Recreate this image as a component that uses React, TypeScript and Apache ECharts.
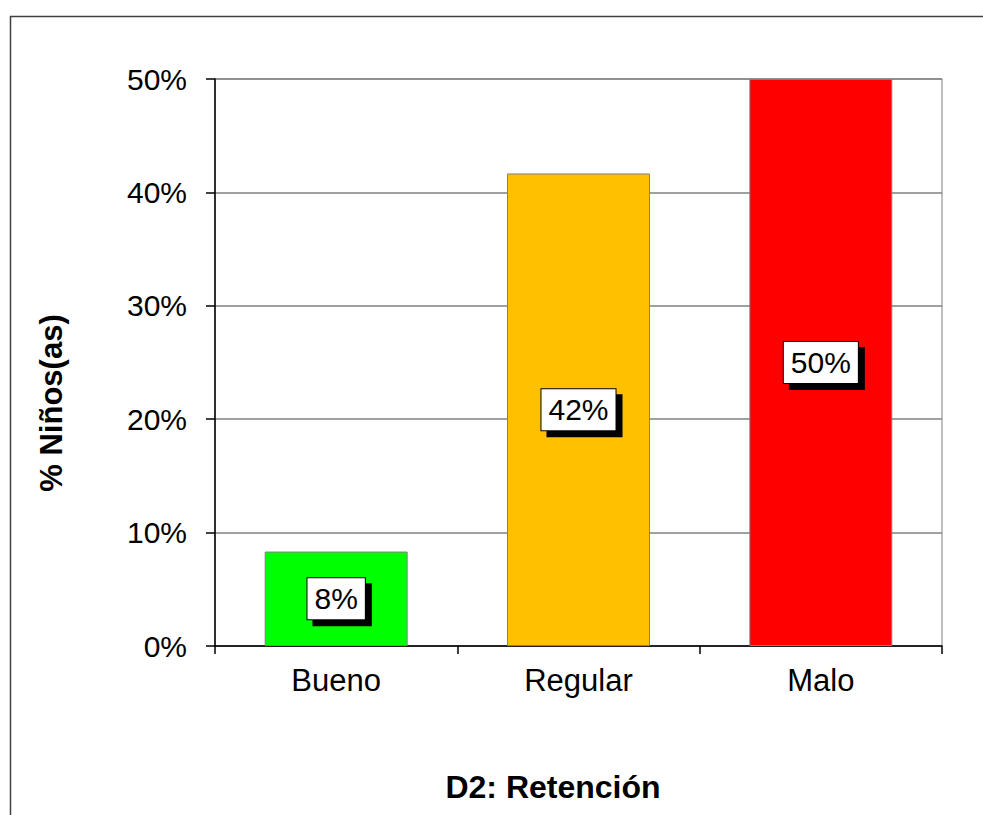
import React, { useEffect, useRef } from "react";
import * as echarts from "echarts";

const categories = ["Bueno", "Regular", "Malo"];
const values = [8.33, 41.67, 50];
const barColors = ["#00FF00", "#FFC000", "#FF0000"];
const yTicks = { min: 0, max: 50, interval: 10 };
const xTitle = "D2: Retención";
const yTitle = "% Niños(as)";

const FONT = "'Liberation Sans', Arial, sans-serif";

export default function App() {
  const ref = useRef<HTMLDivElement>(null);
  useEffect(() => {
    if (!ref.current) return;
    const chart = echarts.init(ref.current, undefined, { renderer: "svg" });
    chart.setOption({
      animation: false,
      backgroundColor: "#ffffff",
      textStyle: { fontFamily: FONT },
      grid: {
        left: 215,
        top: 79,
        right: 41,
        bottom: 169,
        show: true,
        borderColor: "#808080",
        borderWidth: 1,
        backgroundColor: "transparent",
      },
      xAxis: {
        type: "category",
        data: categories,
        axisLine: { show: true, lineStyle: { color: "#000", width: 1.5 } },
        axisTick: { show: true, length: 8, inside: false, lineStyle: { color: "#000", width: 1.5 } },
        axisLabel: { color: "#000", fontSize: 31, fontFamily: FONT, margin: 19 },
        splitLine: { show: false },
      },
      yAxis: {
        type: "value",
        min: yTicks.min,
        max: yTicks.max,
        interval: yTicks.interval,
        axisLine: { show: true, lineStyle: { color: "#000", width: 1.5 } },
        axisTick: { show: true, length: 9, lineStyle: { color: "#000", width: 1.5 } },
        axisLabel: { color: "#000", fontSize: 30, fontFamily: FONT, margin: 28, formatter: "{value}%" },
        splitLine: { show: true, lineStyle: { color: "#808080", width: 1.5 } },
      },
      series: [
        {
          type: "bar",
          barWidth: "59%",
          data: values.map((v, i) => ({
            value: v,
            itemStyle: { color: barColors[i], borderColor: "#808080", borderWidth: 1 },
          })),
          label: {
            show: true,
            position: "inside",
            formatter: (p: any) => Math.round(p.value) + "%",
            color: "#000",
            fontSize: 30,
            fontFamily: FONT,
            backgroundColor: "#fff",
            borderColor: "#000",
            borderWidth: 1,
            padding: [6, 7, 5, 7],
            shadowColor: "#000",
            shadowBlur: 0,
            shadowOffsetX: 6,
            shadowOffsetY: 6,
          },
        },
      ],
      graphic: [
        {
          type: "rect",
          shape: { x: 10.5, y: 16.5, width: 1100, height: 1000 },
          style: { fill: "none", stroke: "#404040", lineWidth: 1.5 },
          silent: true,
          z: -10,
        },
        {
          type: "text",
          x: 51,
          y: 403,
          rotation: Math.PI / 2,
          style: {
            text: yTitle,
            fill: "#000",
            font: `bold 31px ${FONT}`,
            textAlign: "center",
            textVerticalAlign: "middle",
          },
        },
        {
          type: "text",
          x: 553,
          y: 787,
          style: {
            text: xTitle,
            fill: "#000",
            font: `bold 32px ${FONT}`,
            textAlign: "center",
            textVerticalAlign: "middle",
          },
        },
      ],
    });
    return () => chart.dispose();
  }, []);
  return (
    <div
      ref={ref}
      style={{ position: "fixed", left: 0, top: 0, width: 983, height: 815, background: "#fff" }}
    />
  );
}
